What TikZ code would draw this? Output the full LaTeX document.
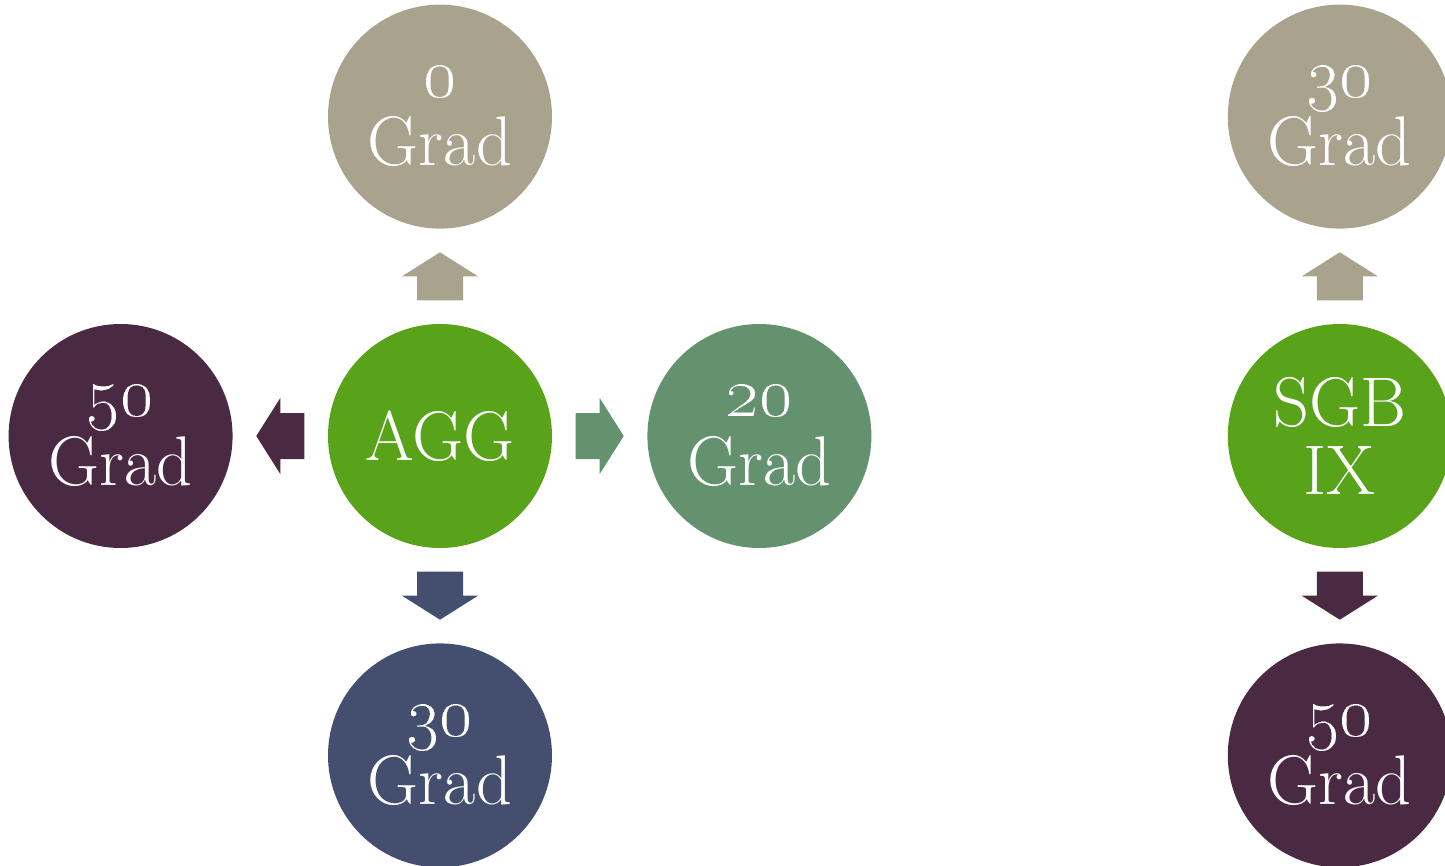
\documentclass[tikz,border=0pt]{standalone}
\usetikzlibrary{positioning,calc}

\definecolor{tanC}{HTML}{A9A28C}
\definecolor{greenC}{HTML}{58A31A}
\definecolor{sageC}{HTML}{64926F}
\definecolor{plumC}{HTML}{4A2942}
\definecolor{navyC}{HTML}{444F70}

\newcommand{\gradnum}[1]{{\fontsize{22.5}{19.5}\selectfont\oldstylenums{#1}}}

\tikzset{
  circ/.style={circle, minimum size=2.24cm, inner sep=0pt, text=white, align=center,
    font=\fontsize{20}{19.5}\selectfont},
  blockarrow/.pic={
    \fill[pic actions] (-0.24,-0.23) -- (0,-0.23) -- (0,-0.38) -- (0.24,0)
      -- (0,0.38) -- (0,0.23) -- (-0.24,0.23) -- cycle;
  }
}

\begin{document}
\begin{tikzpicture}[node distance=0.94cm]
            \useasboundingbox (0,0) rectangle (14.45,8.65);

            % AGG and its neighbours
            \node[circ, fill=greenC] (agg) at (4.40,4.29) {AGG};
            \node[circ, fill=tanC, above=of agg] (zero) {\gradnum{0}\\Grad};
            \node[circ, fill=navyC, below=of agg] (thirty) {\gradnum{30}\\Grad};
            \node[circ, fill=plumC, left=of agg] (fifty) {\gradnum{50}\\Grad};
            \node[circ, fill=sageC, right=of agg] (twenty) {\gradnum{20}\\Grad};

            % SGB IX and its neighbours
            \node[circ, fill=greenC, right=3.55cm of twenty] (sgb) {SGB\\IX};
            \node[circ, fill=tanC, above=of sgb] (sgbup) {\gradnum{30}\\Grad};
            \node[circ, fill=plumC, below=of sgb] (sgbdown) {\gradnum{50}\\Grad};

            % Arrows
            \pic[fill=tanC, rotate=90] at ($(agg)!0.5!(zero)$) {blockarrow};
            \pic[fill=navyC, rotate=-90] at ($(agg)!0.5!(thirty)$) {blockarrow};
            \pic[fill=plumC, rotate=180] at ($(agg)!0.5!(fifty)$) {blockarrow};
            \pic[fill=sageC] at ($(agg)!0.5!(twenty)$) {blockarrow};
            \pic[fill=tanC, rotate=90] at ($(sgb)!0.5!(sgbup)$) {blockarrow};
            \pic[fill=plumC, rotate=-90] at ($(sgb)!0.5!(sgbdown)$) {blockarrow};
        \end{tikzpicture}
\end{document}
